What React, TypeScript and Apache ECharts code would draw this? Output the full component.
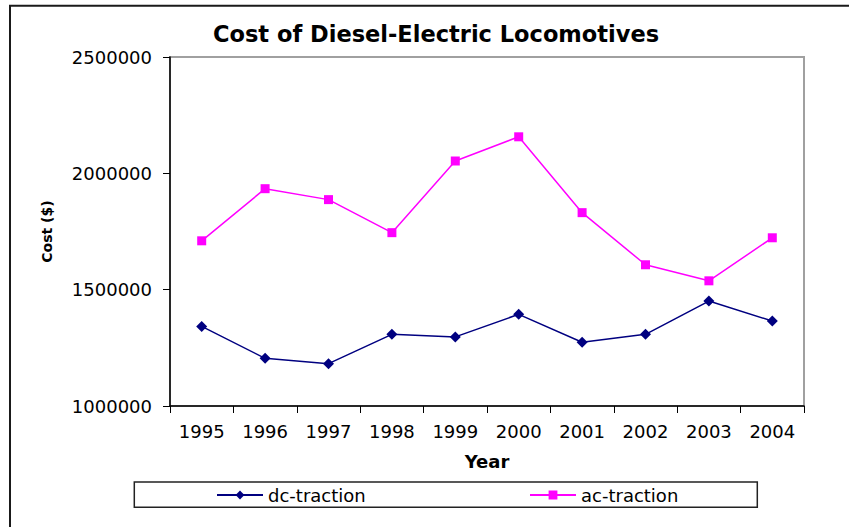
import React, { useEffect, useRef } from "react";
import * as echarts from "echarts";

const years = ["1995", "1996", "1997", "1998", "1999", "2000", "2001", "2002", "2003", "2004"];
const dcTraction = [1342000, 1205000, 1182000, 1308000, 1297000, 1394000, 1274000, 1308000, 1451000, 1365000];
const acTraction = [1710000, 1934000, 1887000, 1745000, 2053000, 2157000, 1831000, 1607000, 1538000, 1723000];
const yTicks = { min: 1000000, max: 2500000, interval: 500000 };

const FONT = "DejaVu Sans";

export default function App() {
  const ref = useRef<HTMLDivElement>(null);

  useEffect(() => {
    if (!ref.current) return;
    const chart = echarts.init(ref.current, undefined, { renderer: "svg" });
    chart.setOption({
      animation: false,
      backgroundColor: "#ffffff",
      title: {
        text: "Cost of Diesel-Electric Locomotives",
        left: 436,
        textAlign: "center",
        top: 22,
        padding: 0,
        textStyle: { fontFamily: FONT, fontSize: 22.5, fontWeight: "bold", color: "#000" },
      },
      grid: {
        left: 170,
        right: 45,
        top: 57,
        bottom: 121,
        show: true,
        borderColor: "#a0a0a0",
        borderWidth: 2,
        backgroundColor: "#ffffff",
      },
      legend: [
        {
          data: ["dc-traction"],
          left: 216,
          top: 486,
          padding: 0,
          itemWidth: 46,
          itemHeight: 11,
          textStyle: { fontFamily: FONT, fontSize: 18, color: "#000" },
        },
        {
          data: ["ac-traction"],
          left: 529,
          top: 486,
          padding: 0,
          itemWidth: 46,
          itemHeight: 11,
          textStyle: { fontFamily: FONT, fontSize: 18, color: "#000" },
        },
      ],
      xAxis: {
        type: "category",
        data: years,
        boundaryGap: true,
        name: "Year",
        nameLocation: "middle",
        nameGap: 46,
        nameTextStyle: { fontFamily: FONT, fontSize: 18, fontWeight: "bold", color: "#000" },
        axisLine: { lineStyle: { color: "#000", width: 1.5 } },
        axisTick: { show: true, length: 7, lineStyle: { color: "#000", width: 1 } },
        axisLabel: { margin: 16, fontFamily: FONT, fontSize: 18, color: "#000" },
        splitLine: { show: false },
      },
      yAxis: {
        type: "value",
        min: yTicks.min,
        max: yTicks.max,
        interval: yTicks.interval,
        name: "Cost ($)",
        nameLocation: "middle",
        nameGap: 116,
        nameTextStyle: { fontFamily: FONT, fontSize: 14, fontWeight: "bold", color: "#000" },
        axisLine: { show: true, lineStyle: { color: "#000", width: 1.5 } },
        axisTick: { show: true, length: 7, lineStyle: { color: "#000", width: 1 } },
        axisLabel: {
          margin: 18,
          fontFamily: FONT,
          fontSize: 18,
          color: "#000",
          formatter: (v: number) => String(v),
        },
        splitLine: { show: false },
      },
      series: [
        {
          name: "dc-traction",
          type: "line",
          data: dcTraction,
          symbol: "diamond",
          symbolSize: 11,
          color: "#000080",
          lineStyle: { color: "#000080", width: 1.5 },
          itemStyle: { color: "#000080" },
        },
        {
          name: "ac-traction",
          type: "line",
          data: acTraction,
          symbol: "rect",
          symbolSize: 9,
          color: "#ff00ff",
          lineStyle: { color: "#ff00ff", width: 1.5 },
          itemStyle: { color: "#ff00ff" },
        },
      ],
      graphic: [
        {
          type: "rect",
          shape: { x: 10, y: 5.7, width: 1000, height: 1000 },
          style: { fill: "none", stroke: "#1a1a1a", lineWidth: 2 },
          silent: true,
        },
        {
          type: "rect",
          shape: { x: 134.3, y: 482, width: 623, height: 25.3 },
          style: { fill: "none", stroke: "#222", lineWidth: 1.5 },
          silent: true,
        },
      ],
    });
    return () => chart.dispose();
  }, []);

  return (
    <div
      ref={ref}
      style={{ position: "absolute", left: 0, top: 0, width: 849, height: 527 }}
    />
  );
}
